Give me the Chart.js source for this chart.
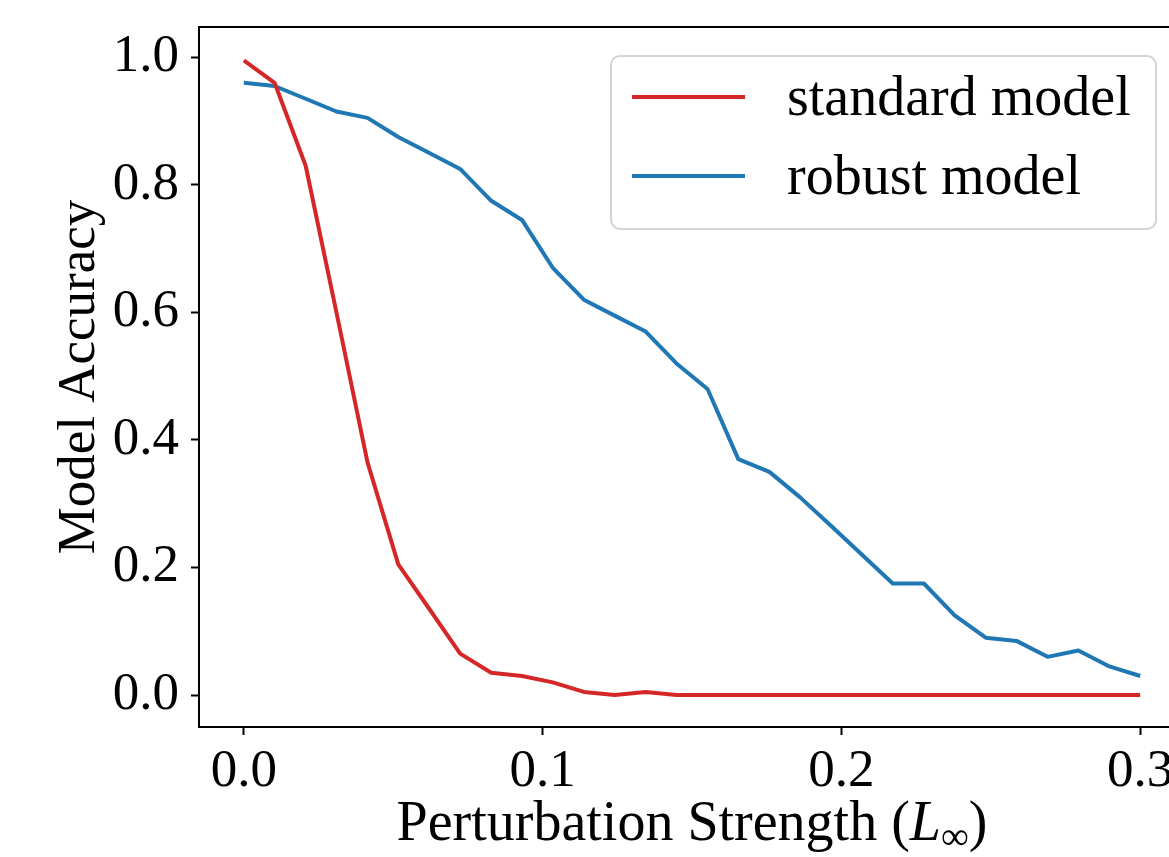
<!DOCTYPE html>
<html>
<head>
<meta charset="utf-8">
<script src="https://cdn.jsdelivr.net/npm/chart.js@4.4.1/dist/chart.umd.min.js"></script>
<style>
  html, body { margin: 0; padding: 0; background: #fff; overflow: hidden; }
  canvas { display: block; }
</style>
</head>
<body>
<canvas id="chart" width="1240" height="857"></canvas>
<script>
// perturbation strengths (L-inf), 30 steps from 0 to 0.3
const strengths = [0, 0.0103, 0.0207, 0.0310, 0.0414, 0.0517, 0.0621, 0.0724, 0.0828, 0.0931,
  0.1034, 0.1138, 0.1241, 0.1345, 0.1448, 0.1552, 0.1655, 0.1759, 0.1862, 0.1966,
  0.2069, 0.2172, 0.2276, 0.2379, 0.2483, 0.2586, 0.2690, 0.2793, 0.2897, 0.3];
const standardAcc = [0.995, 0.96, 0.83, 0.6, 0.365, 0.205, 0.135, 0.065, 0.035, 0.03,
  0.02, 0.005, 0, 0.005, 0, 0, 0, 0, 0, 0,
  0, 0, 0, 0, 0, 0, 0, 0, 0, 0];
const robustAcc = [0.96, 0.955, 0.935, 0.915, 0.905, 0.875, 0.85, 0.825, 0.775, 0.745,
  0.67, 0.62, 0.595, 0.57, 0.52, 0.48, 0.37, 0.35, 0.31, 0.265,
  0.22, 0.175, 0.175, 0.125, 0.09, 0.085, 0.06, 0.07, 0.045, 0.03];
const xTicks = [0, 0.1, 0.2, 0.3];
const yTicks = [0, 0.2, 0.4, 0.6, 0.8, 1.0];
const seriesNames = ['standard model', 'robust model'];
const seriesColors = ['#d62728', '#1f77b4'];

const FONT = '"Liberation Serif", "Times New Roman", serif';
const FS = 53;
const FS_BIG = 56;

const toPoints = ys => ys.map((y, i) => ({x: strengths[i], y}));

// black box round the plot area, like matplotlib spines
const frame = {
  id: 'frame',
  afterDatasetsDraw(chart) {
    const {ctx, chartArea: a} = chart;
    ctx.save();
    ctx.strokeStyle = '#000';
    ctx.lineWidth = 2;
    ctx.strokeRect(a.left, a.top, a.right - a.left, a.bottom - a.top);
    ctx.restore();
  }
};

// legend box in the upper right
const boxLegend = {
  id: 'boxLegend',
  afterDraw(chart) {
    const {ctx} = chart;
    const x = 611, y = 56, w = 545, h = 173, r = 9;
    ctx.save();
    ctx.beginPath();
    ctx.roundRect(x, y, w, h, r);
    ctx.fillStyle = 'rgba(255,255,255,0.8)';
    ctx.fill();
    ctx.strokeStyle = '#d4d4d4';
    ctx.lineWidth = 2;
    ctx.stroke();
    ctx.font = FS_BIG + 'px ' + FONT;
    ctx.textBaseline = 'middle';
    ctx.textAlign = 'left';
    chart.data.datasets.forEach((ds, i) => {
      const ly = 97 + i * 79;
      ctx.beginPath();
      ctx.moveTo(632, ly);
      ctx.lineTo(745, ly);
      ctx.strokeStyle = ds.borderColor;
      ctx.lineWidth = 4;
      ctx.stroke();
      ctx.fillStyle = '#000';
      ctx.fillText(ds.label, 787, ly + 3);
    });
    ctx.restore();
  }
};

// x axis title with italic L and subscript infinity
const xTitle = {
  id: 'xTitle',
  afterDraw(chart) {
    const {ctx, chartArea: a} = chart;
    const parts = [
      {t: 'Perturbation Strength (', f: FS_BIG + 'px ' + FONT, dy: 0},
      {t: 'L', f: 'italic ' + FS_BIG + 'px ' + FONT, dy: 0},
      {t: '\u221E', f: Math.round(FS_BIG * 0.7) + 'px ' + FONT, dy: 9},
      {t: ')', f: FS_BIG + 'px ' + FONT, dy: 0}
    ];
    ctx.save();
    ctx.fillStyle = '#000';
    ctx.textBaseline = 'alphabetic';
    ctx.textAlign = 'left';
    let total = 0;
    parts.forEach(p => { ctx.font = p.f; p.w = ctx.measureText(p.t).width; total += p.w; });
    let cx = (a.left + a.right) / 2 - total / 2;
    const base = 840;
    parts.forEach(p => {
      ctx.font = p.f;
      ctx.fillText(p.t, cx, base + p.dy);
      cx += p.w;
    });
    ctx.restore();
  }
};

new Chart(document.getElementById('chart'), {
  type: 'line',
  data: {
    datasets: [
      {label: seriesNames[0], data: toPoints(standardAcc), borderColor: seriesColors[0]},
      {label: seriesNames[1], data: toPoints(robustAcc), borderColor: seriesColors[1]}
    ]
  },
  options: {
    responsive: false,
    animation: false,
    events: [],
    layout: {padding: {top: 27, right: 55, left: 0, bottom: 0}},
    elements: {
      line: {borderWidth: 4, tension: 0, borderJoinStyle: 'round', fill: false},
      point: {radius: 0}
    },
    plugins: {legend: {display: false}, tooltip: {enabled: false}},
    scales: {
      x: {
        type: 'linear',
        min: -0.015,
        max: 0.315,
        afterBuildTicks: s => { s.ticks = xTicks.map(v => ({value: v})); },
        afterFit: s => { s.height = 130; s.paddingLeft = 0; s.paddingRight = 0; },
        grid: {drawOnChartArea: false, drawTicks: true, tickLength: 8, tickWidth: 2, tickColor: '#000'},
        border: {display: false},
        ticks: {
          color: '#000',
          padding: 5,
          maxRotation: 0,
          font: {family: FONT, size: FS},
          callback: v => v.toFixed(1)
        }
      },
      y: {
        min: -0.05,
        max: 1.0475,
        afterBuildTicks: s => { s.ticks = yTicks.map(v => ({value: v})); },
        afterFit: s => { s.width = 199; s.paddingTop = 0; s.paddingBottom = 0; },
        grid: {drawOnChartArea: false, drawTicks: true, tickLength: 8, tickWidth: 2, tickColor: '#000'},
        border: {display: false},
        title: {
          display: true,
          text: 'Model Accuracy',
          color: '#000',
          font: {family: FONT, size: FS},
          padding: {top: 48, bottom: 0}
        },
        ticks: {
          color: '#000',
          padding: 12,
          font: {family: FONT, size: FS},
          callback: v => v.toFixed(1)
        }
      }
    }
  },
  plugins: [frame, boxLegend, xTitle]
});
</script>
</body>
</html>
